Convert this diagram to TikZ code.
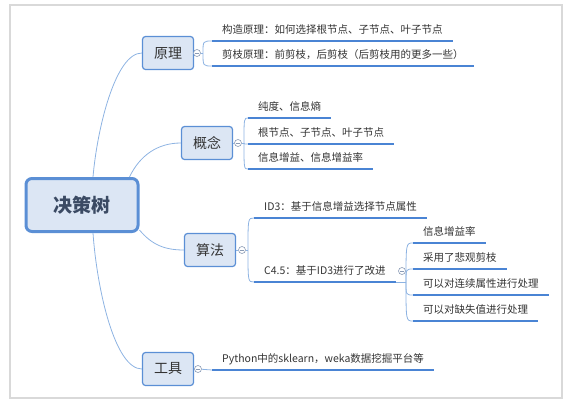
\documentclass[tikz,border=0pt]{standalone}
\usepackage{fontspec}
\setmainfont{Noto Sans CJK SC}
\usetikzlibrary{positioning,calc}

\definecolor{boxfill}{HTML}{DCE6F4}
\definecolor{boxline}{HTML}{5B8FD5}
\definecolor{twigline}{HTML}{8DB3E2}
\definecolor{ulblue}{HTML}{4A84D4}
\definecolor{txt}{HTML}{333333}
\definecolor{roottxt}{HTML}{3B4A63}
\definecolor{togline}{HTML}{8A9BB5}

\begin{document}
\begin{tikzpicture}[x=1pt, y=-1pt,
  root/.style={rectangle, rounded corners=6pt, draw=boxline, line width=3pt, fill=boxfill, minimum width=112pt, minimum height=53pt, font=\fontsize{19}{22}\selectfont\bfseries, text=roottxt},
  topic/.style={rectangle, rounded corners=3pt, draw=boxline, line width=1.2pt, fill=boxfill, minimum width=51pt, minimum height=33pt, font=\fontsize{14}{16}\selectfont, text=txt},
  leaf/.style={anchor=south west, inner xsep=10pt, inner ysep=4.5pt, text height=8.5pt, text depth=2.5pt, font=\fontsize{10.5}{12}\selectfont, text=txt},
  uline/.style={draw=ulblue, line width=2pt},
  twig/.style={draw=twigline, line width=0.8pt},
  tog/.style={circle, draw=togline, fill=white, line width=0.6pt, inner sep=0pt, minimum size=7pt,
    path picture={\draw[togline, line width=0.5pt] ([xshift=-2pt]path picture bounding box.center) -- ([xshift=2pt]path picture bounding box.center);}}
]
\useasboundingbox (0,0) rectangle (586,405);
\draw[black!15, line width=1.5pt] (10,5) rectangle (562,398);

% main nodes
\node[root] (tree) at (82,205) {决策树};
\node[topic] (yuanli) at (168,53) {原理};
\node[topic] (gainian) at (207,143) {概念};
\node[topic] (suanfa) at (210,250) {算法};
\node[topic] (gongju) at (168,369) {工具};

% collapse toggles and forks
\node[tog] (t1) at (197,53) {};
\node[tog] (t2) at (238,143) {};
\node[tog] (t3) at (242,250) {};
\node[tog] (t4) at (198,369) {};
\node[tog] (t5) at (402,271) {};
\coordinate (f1) at (203,53);
\coordinate (f2) at (244,143);
\coordinate (f3) at (248,250);
\coordinate (f5) at (406,282);

% leaves
\node[leaf] (l11) at (212,41) {构造原理：如何选择根节点、子节点、叶子节点};
\node[leaf] (l12) at (212,66) {剪枝原理：前剪枝，后剪枝（后剪枝用的更多一些）};
\node[leaf] (l21) at (248,118) {纯度、信息熵};
\node[leaf] (l22) at (248,144) {根节点、子节点、叶子节点};
\node[leaf] (l23) at (248,169) {信息增益、信息增益率};
\node[leaf] (l31) at (254,218) {ID3：基于信息增益选择节点属性};
\node[leaf] (l32) at (254,282) {C4.5：基于ID3进行了改进};
\node[leaf] (l51) at (413,243) {信息增益率};
\node[leaf] (l52) at (413,269) {采用了悲观剪枝};
\node[leaf] (l53) at (413,295) {可以对连续属性进行处理};
\node[leaf] (l54) at (413,321) {可以对缺失值进行处理};
\node[leaf] (l41) at (212,370) {Python中的sklearn，weka数据挖掘平台等};

% branches from the root
\draw[twig] ([xshift=11pt]tree.north) .. controls (97,130) and (115,53) .. (yuanli.west);
\draw[twig] ([xshift=-10pt]tree.north east) .. controls (140,155) and (158,143) .. (gainian.west);
\draw[twig] ([yshift=3pt]tree.south east) .. controls (152,245) and (165,250) .. (suanfa.west);
\draw[twig] ([xshift=11pt]tree.south) .. controls (97,290) and (115,369) .. (gongju.west);

% topic to toggle to fork
\draw[twig] (yuanli) -- (t1) -- (f1);
\draw[twig] (gainian) -- (t2) -- (f2);
\draw[twig] (suanfa) -- (t3) -- (f3);
\draw[twig] (gongju) -- (t4) -- (l41.south west);
\draw[twig] (l32.south east) -- (f5);

% forks to leaves
\foreach \n in {l11,l12} \draw[twig] (f1) .. controls (f1 |- \n.south west) .. (\n.south west);
\foreach \n in {l21,l22,l23} \draw[twig] (f2) .. controls (f2 |- \n.south west) .. (\n.south west);
\foreach \n in {l31,l32} \draw[twig] (f3) .. controls (f3 |- \n.south west) .. (\n.south west);
\foreach \n in {l51,l52,l53,l54} \draw[twig] (f5) .. controls (f5 |- \n.south west) .. (\n.south west);

% underlines
\foreach \n in {l11,l12,l21,l22,l23,l31,l32,l51,l52,l53,l54,l41}
  \draw[uline] (\n.south west) -- (\n.south east);
\end{tikzpicture}
\end{document}
